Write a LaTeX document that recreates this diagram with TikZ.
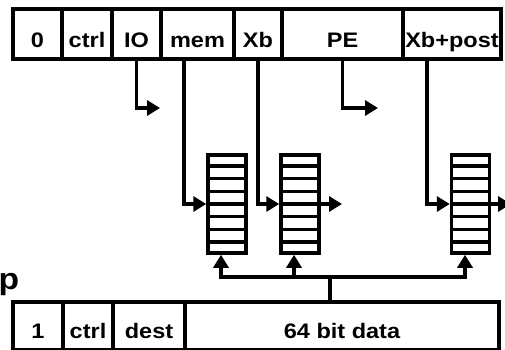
\documentclass[tikz,border=0pt]{standalone}
\usepackage{fontspec}
\setmainfont{Liberation Sans}[FakeStretch=1.12]
\usetikzlibrary{arrows.meta,calc}
\begin{document}
\begin{tikzpicture}[x=1pt,y=-1pt,
  lw/.style={line width=3.5pt},
  field/.style={draw,lw,inner sep=0pt,minimum height=#1,text depth=0pt,
    font=\fontsize{21}{24}\selectfont\bfseries},
  toprow/.style={field=50pt,text height=26pt},
  botrow/.style={field=48pt,text height=24pt},
  reg/.style={draw,lw,minimum width=38pt,minimum height=98pt,inner sep=0pt},
  conn/.style={lw,line join=miter},
  arr/.style={conn,-{Triangle[length=13pt,width=15pt]}}]
\useasboundingbox (0,0) rectangle (505,349);
\clip (0,0) rectangle (505,349);
% top header
\node[toprow,minimum width=49pt] (z)   at (37.5,34) {0};
\node[toprow,minimum width=50pt] (c)   at (87,34) {ctrl};
\node[toprow,minimum width=49pt] (io)  at (136.5,34) {IO};
\node[toprow,minimum width=73pt] (mem) at (197.5,34) {mem};
\node[toprow,minimum width=48pt] (xb)  at (258,34) {Xb};
\node[toprow,minimum width=121pt] (pe) at (342.5,34) {PE};
\node[toprow,minimum width=98pt] (xbp) at (452,34) {Xb+post};
% registers
\node[reg] (r1) at (227,204) {};
\node[reg] (r2) at (300,204) {};
\node[reg] (r3) at (470.5,204) {};
\foreach \r in {r1,r2,r3}{
  \foreach \k in {1,...,7}{
    \draw[lw] ($(\r.north west)!\k/8!(\r.south west)$) -- ($(\r.north east)!\k/8!(\r.south east)$);
  }
}
% bottom row
\node[botrow,minimum width=50pt] (one)  at (38,326) {1};
\node[botrow,minimum width=50pt] (bc)   at (88,326) {ctrl};
\node[botrow,minimum width=72pt] (dest) at (149,326) {dest};
\node[botrow,minimum width=314pt] (data) at (342,326) {64 bit data};
% clipped letter
\node[anchor=base west,inner sep=0pt,font=\fontsize{30}{34}\selectfont\bfseries] (pp) at (-1.5,289) {p};
% coordinates
\coordinate (ioend) at (160,108);
\coordinate (peend) at (378,108);
\coordinate (memout) at ([xshift=-13.5pt]mem.south);
\coordinate (xbpout) at ([xshift=-25pt]xbp.south);
\coordinate (out2) at (342,204);
\coordinate (out3) at (511,204);
\coordinate (busj) at (330,277);
\coordinate (u1) at ([xshift=-6pt]r1.south);
\coordinate (u2) at ([xshift=-6pt]r2.south);
\coordinate (u3) at ([xshift=-5.5pt]r3.south);
% connectors
\draw[arr] (io.south) |- (ioend);
\draw[arr] (pe.south) |- (peend);
\draw[arr] (memout) |- (r1.west);
\draw[arr] (xb.south) |- (r2.west);
\draw[arr] (xbpout) |- (r3.west);
\draw[arr] (r2.east) -- (out2);
\draw[arr] (r3.east) -- (out3);
\draw[conn] (busj |- data.north) -- (busj);
\draw[arr] (u1 |- busj) -- (u1);
\draw[arr] (u2 |- busj) -- (u2);
\draw[arr] (u3 |- busj) -- (u3);
\draw[conn,line cap=rect] (u1 |- busj) -- (u3 |- busj);
\end{tikzpicture}
\end{document}
